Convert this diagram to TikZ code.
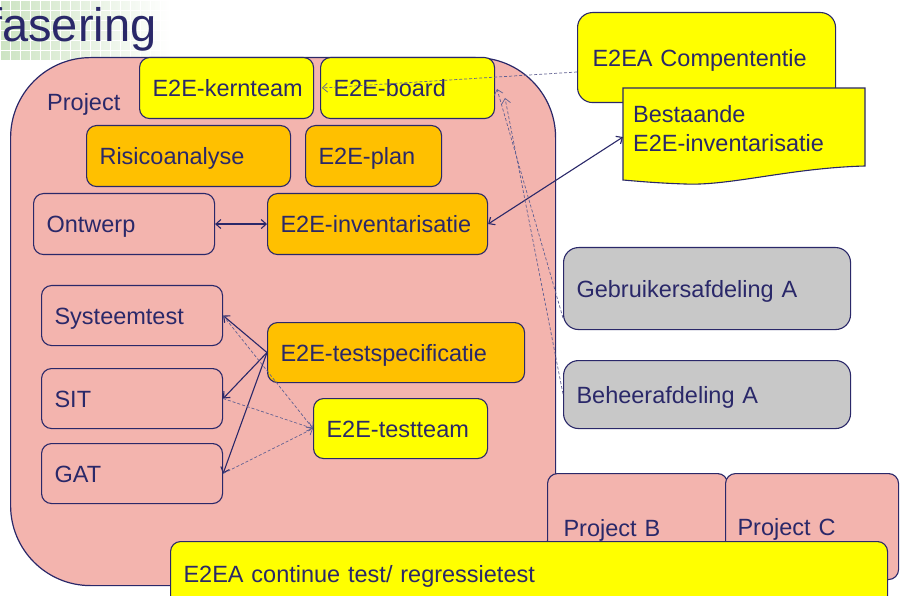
\documentclass[tikz,border=0pt]{standalone}
\usepackage{fontspec}
\setmainfont{Liberation Sans}
\usetikzlibrary{arrows.meta}
\definecolor{navy}{RGB}{42,40,105}
\definecolor{pinkf}{RGB}{243,180,174}
\definecolor{orangef}{RGB}{255,192,0}
\definecolor{yellowf}{RGB}{255,255,0}
\definecolor{grayf}{RGB}{200,200,200}
\definecolor{dashc}{RGB}{95,95,145}
\definecolor{greenbg}{RGB}{205,228,195}
\newcommand{\mybox}[8][13]{\pgfmathsetmacro\mytw{#6-2*#1}\node[#3, anchor=north west, minimum width=#6pt, minimum height=#7pt, text width=\mytw pt, text height=17pt, text depth=0pt, inner xsep=#1pt, inner ysep=0pt, align=left] (#2) at (#4,#5) {\mbox{#8}};}
\tikzset{
  boxbase/.style={draw=navy, line width=1.1pt, rounded corners=10pt},
  yellowbox/.style={boxbase, fill=yellowf},
  orangebox/.style={boxbase, fill=orangef},
  pinkbox/.style={boxbase, fill=pinkf},
  graybox/.style={boxbase, fill=grayf, rounded corners=15pt},
  tipb/.tip={Straight Barb[length=5pt,width=9pt]},
  solidcon/.style={navy, line width=1.1pt},
  dashcon/.style={dashc, line width=0.7pt, dash pattern=on 3pt off 2pt},
}
\begin{document}
\begin{tikzpicture}[x=1pt, y=-1pt, font=\fontsize{23.5}{28}\selectfont, text=navy]
\useasboundingbox (0,0) rectangle (900,596);
\clip (0,0) rectangle (900,596);
% title banner
\shade[left color=greenbg, right color=white] (0,0) rectangle (170,60);
\draw[white, line width=0.6pt, step=10pt] (0,0) grid (170,60);
\node[anchor=base west, inner sep=0pt, font=\fontsize{47}{50}\selectfont] (title) at (-11,42) {fasering};
% big project container
\node[draw=navy, fill=pinkf, line width=1.2pt, rounded corners=80pt, anchor=north west, minimum width=545pt, minimum height=528pt, inner sep=0pt] (projbox) at (10,57) {};
\node[anchor=west, inner sep=0pt] (projlbl) at (47,104) {Project};
% boxes inside project
\mybox{kern}{yellowbox}{139}{57}{174}{61}{E2E-kernteam}
\mybox{board}{yellowbox}{320}{57}{174}{61}{E2E-board}
\mybox{risico}{orangebox}{86}{125}{204}{61}{Risicoanalyse}
\mybox{plan}{orangebox}{305}{125}{136}{61}{E2E-plan}
\mybox{ontwerp}{pinkbox}{33}{193}{181}{61}{Ontwerp}
\mybox{inv}{orangebox}{267}{193}{220}{61}{E2E-inventarisatie}
\mybox{sys}{pinkbox}{41}{285}{181}{60}{Systeemtest}
\mybox{sit}{pinkbox}{41}{368}{181}{60}{SIT}
\mybox{gat}{pinkbox}{41}{443}{181}{60}{GAT}
\mybox{spec}{orangebox}{267}{322}{257}{60}{E2E-testspecificatie}
\mybox{team}{yellowbox}{313}{398}{174}{60}{E2E-testteam}
% other projects and departments
\mybox[16]{pb}{pinkbox}{547}{473}{180}{108}{Project B}
\mybox[12]{pc}{pinkbox}{725}{473}{173}{106}{Project C}
\mybox{gebr}{graybox}{563}{247}{287}{82}{Gebruikersafdeling A}
\mybox{beheer}{graybox}{563}{360}{287}{68}{Beheerafdeling A}
\mybox[15]{comp}{yellowbox, rounded corners=15pt}{577}{12}{258}{90}{E2EA Compententie}
% document shape
\draw[draw=navy, fill=yellowf, line width=1.1pt] (623,88) -- (865,88) -- (865,166)
  .. controls (790,168) and (730,186) .. (685,184)
  .. controls (655,183) and (635,181) .. (623,180) -- cycle;
\node[anchor=north west, minimum width=242pt, minimum height=80pt, text width=222pt, inner xsep=10pt, inner ysep=0pt, align=left, font=\fontsize{23.5}{29}\selectfont] (best) at (623,88) {Bestaande\\E2E-inventarisatie};
\coordinate (bestin) at (623,137);
% connectors
\draw[solidcon, tipb-tipb] (ontwerp.east) -- (inv.west);
\draw[solidcon, tipb-tipb] (inv.east) -- (bestin);
\draw[solidcon, -tipb] (spec.west) -- (sys.east);
\draw[solidcon, -tipb] (spec.west) -- (sit.east);
\draw[solidcon, -tipb] (spec.west) -- (gat.east);
\draw[dashcon, -tipb] (sys.east) -- (team.west);
\draw[dashcon, -tipb] (sit.east) -- (team.west);
\draw[dashcon, -tipb] (gat.east) -- (team.west);
\coordinate (compin) at (577,72);
\coordinate (boardin) at (322,88);
\draw[dashcon, -tipb] (compin) -- (boardin);
\coordinate (gebrin) at (563,318);
\coordinate (beheerin) at (563,394);
\coordinate (boardbr1) at (497,89);
\coordinate (boardbr2) at (505,98);
\draw[dashcon, -tipb] (gebrin) -- (boardbr1);
\draw[dashcon, -tipb] (beheerin) -- (boardbr2);
% bottom banner
\mybox{cont}{yellowbox}{170}{541}{717}{64}{E2EA continue test/ regressietest}
\end{tikzpicture}
\end{document}
